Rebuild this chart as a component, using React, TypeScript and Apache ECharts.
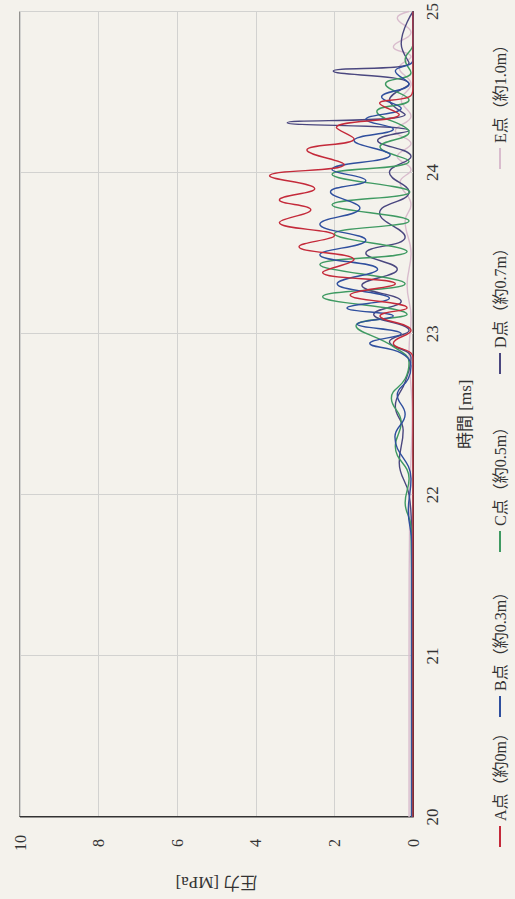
import React, { useEffect, useRef } from 'react';
import * as echarts from 'echarts';

const timeTicks = [20, 21, 22, 23, 24, 25];
const pressureTicks = [0, 2, 4, 6, 8, 10];
const seriesNames = ['A点（約0m）', 'B点（約0.3m）', 'C点（約0.5m）', 'D点（約0.7m）', 'E点（約1.0m）'];
const seriesColors = ['#c42a3a', '#2f4f9e', '#3f9a62', '#4a477f', '#d9bccd'];

// [time ms, pressure MPa]
const seriesA = [
  [20.0, 0], [21.0, 0], [22.0, 0], [22.85, 0], [22.94, 0.5], [23.02, 0.05], [23.11, 0.84],
  [23.16, 0.15], [23.24, 1.6], [23.31, 0.45], [23.38, 2.3], [23.46, 1.5], [23.54, 2.9],
  [23.61, 2.0], [23.69, 3.4], [23.77, 2.6], [23.83, 3.4], [23.9, 2.5], [23.98, 3.65],
  [24.05, 1.75], [24.14, 2.7], [24.21, 1.5], [24.28, 1.95], [24.36, 0.35], [24.43, 0.85],
  [24.47, 0.1], [24.52, 0.0], [25.0, 0],
];
const seriesB = [
  [20.0, 0.03], [21.0, 0.03], [21.7, 0.03], [21.9, 0.12], [22.1, 0.05], [22.36, 0.46], [22.5, 0.2],
  [22.62, 0.4], [22.72, 0.12], [22.8, 0.05], [22.88, 0.3], [22.94, 1.1], [23.0, 0.3],
  [23.06, 1.42], [23.11, 0.5], [23.16, 1.68], [23.22, 0.6], [23.31, 1.93], [23.4, 0.9],
  [23.49, 2.37], [23.58, 1.2], [23.68, 2.37], [23.78, 1.35], [23.88, 2.1], [23.95, 1.2],
  [24.02, 2.06], [24.11, 0.58], [24.2, 1.5], [24.27, 0.5], [24.33, 1.2], [24.4, 0.3],
  [24.47, 0.8], [24.55, 0.1], [24.63, 0.45], [24.7, 0.0], [25.0, 0],
];
const seriesC = [
  [20.0, 0.02], [21.0, 0.02], [21.8, 0.05], [21.95, 0.2], [22.1, 0.1], [22.3, 0.45], [22.45, 0.3],
  [22.6, 0.55], [22.72, 0.2], [22.82, 0.1], [22.92, 0.5], [23.05, 1.45], [23.12, 0.15],
  [23.23, 2.3], [23.31, 0.2], [23.43, 2.37], [23.51, 0.15], [23.62, 2.0], [23.7, 0.1],
  [23.8, 2.06], [23.88, 0.08], [23.99, 2.06], [24.07, 0.1], [24.16, 0.84], [24.25, 0.1],
  [24.38, 0.92], [24.45, 0.1], [24.55, 0.7], [24.62, 0.05], [24.7, 0.2], [24.8, 0.0], [25.0, 0],
];
const seriesD = [
  [20.0, 0.04], [21.0, 0.04], [21.8, 0.04], [22.0, 0.1], [22.2, 0.35], [22.4, 0.25], [22.55, 0.45],
  [22.7, 0.2], [22.85, 0.05], [22.95, 0.6], [23.02, 0.1], [23.12, 1.0], [23.2, 0.3],
  [23.3, 1.3], [23.4, 0.4], [23.5, 1.2], [23.6, 0.2], [23.75, 0.85], [23.88, 0.1],
  [24.0, 0.6], [24.1, 0.05], [24.2, 0.9], [24.26, 0.1], [24.31, 3.2], [24.36, 0.2],
  [24.45, 0.6], [24.55, 0.1], [24.63, 2.03], [24.68, 0.1], [24.8, 0.3], [25.0, 0],
];
const seriesE = [
  [20.0, 0.1], [21.0, 0.1], [22.0, 0.08], [22.5, 0.02], [22.9, 0.1], [23.1, 0.05], [23.3, 0.15],
  [23.5, 0.05], [23.7, 0.2], [23.8, 0.05], [23.94, 0.33], [24.02, 0.05], [24.1, 0.4],
  [24.18, 0.05], [24.26, 0.45], [24.35, 0.05], [24.45, 0.3], [24.55, 0.05], [24.65, 0.35],
  [24.72, 0.05], [24.78, 0.5], [24.87, 0.05], [24.96, 0.4], [25.0, 0.1],
];

const allSeries = [seriesA, seriesB, seriesC, seriesD, seriesE];
const legendLefts = [52, 182, 347, 525, 730];

const FONT = "'Liberation Serif', 'DejaVu Serif', 'Noto Sans CJK JP', serif";

export default function App() {
  const ref = useRef<HTMLDivElement>(null);
  useEffect(() => {
    if (!ref.current) return;
    const chart = echarts.init(ref.current, undefined, { renderer: 'svg' });
    chart.setOption({
      animation: false,
      backgroundColor: 'transparent',
      textStyle: { fontFamily: FONT, color: '#333' },
      grid: {
        left: 78, right: 7, top: 20, bottom: 102,
        show: true, borderColor: '#333', borderWidth: 1, backgroundColor: 'transparent',
      },
      legend: seriesNames.map((n, i) => ({
        data: [{ name: n, icon: 'rect' }],
        left: legendLefts[i], top: 492, padding: 0,
        itemWidth: 21, itemHeight: 2, itemGap: 0,
        textStyle: { fontFamily: FONT, fontSize: 16, color: '#333', padding: [0, 0, 0, 0] },
      })),
      xAxis: {
        type: 'value', min: timeTicks[0], max: timeTicks[timeTicks.length - 1], interval: 1,
        name: '時間 [ms]', nameLocation: 'middle', nameGap: 44,
        nameTextStyle: { fontFamily: FONT, fontSize: 17, color: '#333' },
        axisLine: { show: true, lineStyle: { color: '#333' } },
        axisTick: { show: false },
        axisLabel: { margin: 11, fontSize: 17, color: '#333', fontFamily: FONT, showMinLabel: true, showMaxLabel: true },
        splitLine: { show: true, lineStyle: { color: '#d2d2d0', width: 1 } },
      },
      yAxis: {
        type: 'value', min: pressureTicks[0], max: pressureTicks[pressureTicks.length - 1], interval: 2,
        name: '圧力 [MPa]', nameLocation: 'middle', nameGap: 57, nameRotate: 90,
        nameTextStyle: { fontFamily: FONT, fontSize: 17, color: '#333' },
        axisLine: { show: true, lineStyle: { color: '#333' } },
        axisTick: { show: false },
        axisLabel: { margin: 26, align: 'center', fontSize: 16, color: '#333', fontFamily: FONT },
        splitLine: { show: true, lineStyle: { color: '#d2d2d0', width: 1 } },
      },
      series: allSeries.map((d, i) => ({
        name: seriesNames[i],
        type: 'line',
        data: d,
        smooth: 0.45,
        symbol: 'none',
        showSymbol: false,
        lineStyle: { color: seriesColors[i], width: 1.4 },
        itemStyle: { color: seriesColors[i] },
        z: 10 - i,
      })),
    });
    return () => chart.dispose();
  }, []);

  return (
    <div style={{ position: 'fixed', left: 0, top: 0, width: 515, height: 899, overflow: 'hidden', background: '#f4f2ec' }}>
      <div
        ref={ref}
        style={{
          position: 'absolute', left: 0, top: 0, width: 899, height: 515,
          transformOrigin: '0 0', transform: 'translate(0px, 899px) rotate(-90deg)',
        }}
      />
    </div>
  );
}
